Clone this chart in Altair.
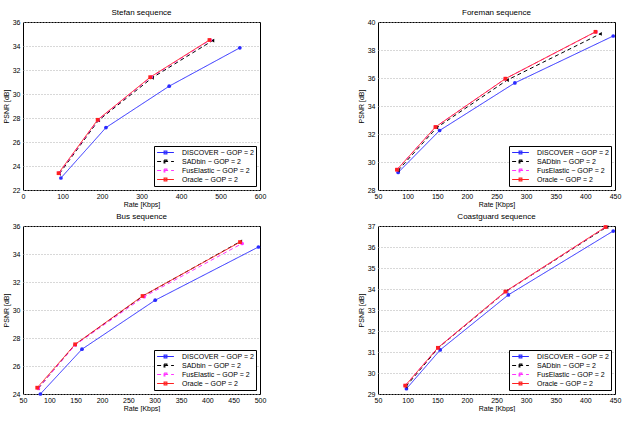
import altair as alt
import pandas as pd

FONT = "Liberation Sans"

series = ["DISCOVER − GOP = 2", "SADbin − GOP = 2", "FusElastic − GOP = 2", "Oracle − GOP = 2"]
colors = ["#2a2aff", "#000000", "#ff33ff", "#ff2020"]
dashes = [[1, 0], [4, 3], [4, 3], [1, 0]]
shapes = ["circle", "triangle-left", "circle", "square"]

# legend key: a short line with a small marker at its centre
LEGEND_KEY = "M-2.4,0H2.4M-0.4,-0.4H0.4V0.4H-0.4Z"

# Stefan sequence: rate [Kbps] / PSNR [dB] per method
stefan_rate = [[96, 210, 370, 549], [92, 191, 327, 480], [91, 190, 324, 474], [90, 189, 322, 472]]
stefan_psnr = [[23.0, 27.2, 30.65, 33.85], [23.35, 27.8, 31.35, 34.45],
               [23.4, 27.85, 31.4, 34.5], [23.4, 27.85, 31.4, 34.5]]

# Foreman sequence
foreman_rate = [[84, 154, 281, 447], [84, 149, 268, 425], [82, 147, 265, 418], [82, 147, 265, 417]]
foreman_psnr = [[29.25, 32.25, 35.65, 39.0], [29.4, 32.45, 35.85, 39.15],
                [29.45, 32.5, 35.95, 39.3], [29.45, 32.5, 35.95, 39.3]]

# Bus sequence
bus_rate = [[83, 162, 301, 497], [79, 148, 278, 463], [79, 149, 280, 466], [77, 149, 277, 462]]
bus_psnr = [[24.0, 27.2, 30.7, 34.5], [24.4, 27.5, 31.0, 34.9],
            [24.4, 27.5, 30.95, 34.75], [24.45, 27.55, 31.0, 34.85]]

# Coastguard sequence
coast_rate = [[98, 155, 270, 447], [97, 152, 267, 436], [96, 151, 266, 434], [96, 151, 265, 434]]
coast_psnr = [[29.25, 31.1, 33.72, 36.76], [29.35, 31.2, 33.9, 36.95],
              [29.4, 31.2, 33.88, 36.95], [29.4, 31.2, 33.88, 36.95]]


def to_frame(rates, psnrs):
    rows = []
    for k, name in enumerate(series):
        for r, p in zip(rates[k], psnrs[k]):
            rows.append({"method": name, "order": k, "rate": r, "psnr": p})
    return pd.DataFrame(rows)


def legend_spec():
    return alt.Legend(title=None, orient="bottom-right", offset=4,
                      strokeColor="black", fillColor="white",
                      padding=2, rowPadding=-3, labelFontSize=7,
                      labelFont=FONT, symbolType=LEGEND_KEY,
                      symbolSize=49, symbolStrokeWidth=1.1,
                      symbolOffset=5, labelOffset=12, labelLimit=200)


def panel(title, rates, psnrs, xdom, xstep, ydom, ystep):
    df = to_frame(rates, psnrs)
    xticks = list(range(xdom[0], xdom[1] + 1, xstep))
    yticks = list(range(ydom[0], ydom[1] + 1, ystep))
    x = alt.X("rate:Q", title="Rate [Kbps]",
              scale=alt.Scale(domain=xdom, nice=False, zero=False),
              axis=alt.Axis(values=xticks, grid=False, labelFlush=False))
    y = alt.Y("psnr:Q", title="PSNR [dB]",
              scale=alt.Scale(domain=ydom, nice=False, zero=False),
              axis=alt.Axis(values=yticks, grid=True, gridDash=[1, 2], gridColor="#b0b0b0"))
    color = alt.Color("method:N", scale=alt.Scale(domain=series, range=colors),
                      legend=legend_spec())
    dash = alt.StrokeDash("method:N", scale=alt.Scale(domain=series, range=dashes),
                          legend=legend_spec())
    lines = alt.Chart(df).mark_line(strokeWidth=1).encode(
        x=x, y=y, color=color, strokeDash=dash, order="order:Q", detail="method:N")
    # one marker layer per method, each with its own marker shape
    markers = [
        alt.Chart(df).transform_filter(alt.datum.method == name).mark_point(
            filled=True, size=14, opacity=1, shape=shp, color=col
        ).encode(x=x, y=y)
        for name, shp, col in zip(series, shapes, colors)
    ]
    return alt.layer(lines, *markers).properties(
        width=237, height=168,
        title=alt.TitleParams(title, fontSize=8, font=FONT, fontWeight="normal", offset=1))


p1 = panel("Stefan sequence", stefan_rate, stefan_psnr, [0, 600], 100, [22, 36], 2)
p2 = panel("Foreman sequence", foreman_rate, foreman_psnr, [50, 450], 50, [28, 40], 2)
p3 = panel("Bus sequence", bus_rate, bus_psnr, [50, 500], 50, [24, 36], 2)
p4 = panel("Coastguard sequence", coast_rate, coast_psnr, [50, 450], 50, [29, 37], 1)

chart = alt.concat(p1, p2, p3, p4, columns=2, spacing=alt.RowColnumber(row=4, column=89)).resolve_scale(
    color="independent", strokeDash="independent"
).configure(
    padding={"left": 1, "top": 8, "right": 0, "bottom": 0}
).configure_view(stroke="black", strokeWidth=1).configure_axis(
    labelFont=FONT, titleFont=FONT, labelFontSize=7, titleFontSize=7,
    titleFontWeight="normal", labelColor="black", titleColor="black",
    domain=False, ticks=False, labelPadding=2, titlePadding=1,
).configure_axisY(labelPadding=3, titlePadding=3)

chart.save("out.html", embed_options={"renderer": "svg", "actions": False})
